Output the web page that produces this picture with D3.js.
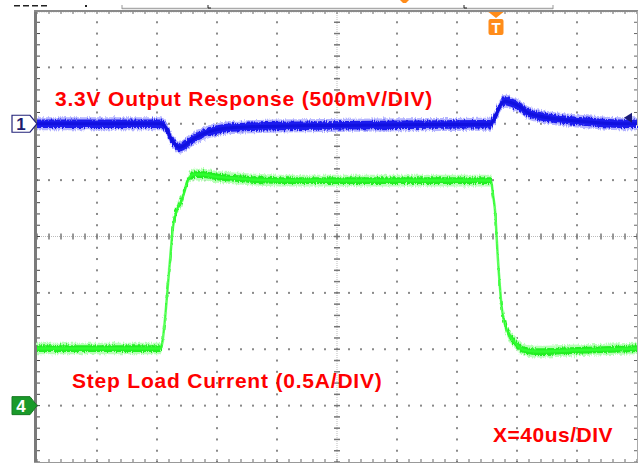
<!DOCTYPE html>
<html>
  <head>
    <meta charset="utf-8">
    <title>Step load response</title>
    <script src="https://d3js.org/d3.v7.min.js"></script>
    <style>
      body { margin: 0; background: #fff; }
      text { font-family: "Liberation Sans", Arial, sans-serif; font-weight: bold; }
    </style>
  </head>
  <body>

    <script>
      // ====================================
      // Scope capture: 3.3V output vs step load
      // ====================================

      // time axis, us from left edge of screen (40us/DIV, 10 DIV)
      const timeDomain = [0, 400];
      const divX = 10;
      const divY = 8;

      // channel 1: deviation from 3.3V, mV (500mV/DIV)
      const voltTime = [0, 82, 84.7, 87.3, 90, 92.7, 94.7, 97.3, 102, 108.7, 115.3, 125.3, 142, 175.3, 242, 302,
                        304, 306.7, 309.3, 312, 315.3, 322, 326.7, 335.3, 348.7, 370.7, 388.7, 400];
      const voltMv   = [0, 0, -13, -75, -146, -191, -208, -200, -155, -102, -67, -40, -27, -18, -9, -4,
                        22, 102, 173, 200, 191, 150, 102, 67, 40, 13, 0, 0];

      // channel 4: load current, A (0.5A/DIV)
      const currTime = [0, 82, 83.3, 85.3, 87.3, 88.7, 90.7, 93.3, 96.7, 100, 104, 110.7, 118.7, 135.3, 162, 302.7,
                        304, 305.3, 307.3, 310, 312, 314, 318.7, 324, 333.3, 355.3, 400];
      const currAmp  = [0.506, 0.506, 0.541, 0.763, 1.073, 1.295, 1.588, 1.738, 1.827, 1.978, 2.049, 2.049, 2.031, 2.013, 1.996, 1.996,
                        1.871, 1.738, 1.295, 0.851, 0.718, 0.647, 0.559, 0.497, 0.479, 0.488, 0.506];

      const ch1Scale = 500;   // mV per div
      const ch1Offset = 2;    // divs above centre
      const ch4Scale = 0.5;   // A per div
      const ch4Offset = -3;
      const triggerTime = 306;

      const labels = {
        ch1: "3.3V Output Response (500mV/DIV)",
        ch4: "Step Load Current (0.5A/DIV)",
        time: "X=40us/DIV"
      };

      function drawScope() {
        const width = 640;
        const height = 463;

        const svg = d3.select("body")
          .append("svg")
            .attr("width", width)
            .attr("height", height);

        // acquisition noise look for the traces
        const filt = svg.append("defs").append("filter").attr("id", "fuzz")
          .attr("x", "-5%").attr("y", "-50%").attr("width", "110%").attr("height", "200%");
        filt.append("feTurbulence").attr("type", "fractalNoise")
          .attr("baseFrequency", "0.9 0.15").attr("numOctaves", 2).attr("seed", 3).attr("result", "n");
        filt.append("feDisplacementMap").attr("in", "SourceGraphic").attr("in2", "n")
          .attr("scale", 5).attr("xChannelSelector", "R").attr("yChannelSelector", "G");

        const x = d3.scaleLinear().domain(timeDomain).range([37, 637]);
        const gx = d3.scaleLinear().domain([0, divX]).range([37, 637]);
        const gy = d3.scaleLinear().domain([-divY / 2, divY / 2]).range([462, 11]);

        // ---------- top status strip ----------
        const top = svg.append("g");
        [14, 23, 32, 41].forEach(function(d) {
          top.append("rect").attr("x", d).attr("y", 5).attr("width", 6).attr("height", 1.5).attr("fill", "#222");
        });
        top.append("rect").attr("x", 85).attr("y", 5).attr("width", 2).attr("height", 2).attr("fill", "#222");
        top.append("line").attr("x1", 122).attr("x2", 553).attr("y1", 8.5).attr("y2", 8.5)
          .attr("stroke", "#aaa").attr("stroke-width", 1.5);
        [122, 553].forEach(function(d) {
          top.append("line").attr("x1", d).attr("x2", d).attr("y1", 5).attr("y2", 9).attr("stroke", "#999");
        });
        [208, 464].forEach(function(d) {
          top.append("path").attr("d", "M" + d + ",5 V8 H" + (d + 3)).attr("stroke", "#222").attr("fill", "none");
        });
        top.append("path").attr("d", "M400,0 H409 L406,3 H403 Z").attr("fill", "#ff8c1a");

        // ---------- graticule ----------
        const grid = svg.append("g");
        const minorX = d3.range(0, divX + 0.001, 0.2);
        const minorY = d3.range(-divY / 2, divY / 2 + 0.001, 0.2);

        // dotted vertical lines
        d3.range(1, divX).filter(function(i) { return i !== 5; }).forEach(function(i) {
          grid.selectAll(null).data(minorY).enter().append("rect")
            .attr("x", gx(i) - 1).attr("y", function(d) { return gy(d) - 1; })
            .attr("width", 2).attr("height", 2).attr("fill", "#8a8a8a");
        });
        // dotted horizontal lines
        d3.range(-3, 4).filter(function(j) { return j !== 0; }).forEach(function(j) {
          grid.selectAll(null).data(minorX).enter().append("rect")
            .attr("x", function(d) { return gx(d) - 1; }).attr("y", gy(j) - 1)
            .attr("width", 2).attr("height", 2).attr("fill", "#8a8a8a");
        });

        // centre cross with ticks
        grid.append("line").attr("x1", gx(0)).attr("x2", gx(divX)).attr("y1", gy(0)).attr("y2", gy(0))
          .attr("stroke", "#bbb").attr("stroke-dasharray", "1,1");
        grid.append("line").attr("x1", gx(5)).attr("x2", gx(5)).attr("y1", gy(-4)).attr("y2", gy(4))
          .attr("stroke", "#bbb").attr("stroke-dasharray", "1,1");
        grid.selectAll(null).data(minorX).enter().append("line")
          .attr("x1", function(d) { return gx(d); }).attr("x2", function(d) { return gx(d); })
          .attr("y1", gy(0) - 3).attr("y2", gy(0) + 3)
          .attr("stroke", "#777").attr("stroke-width", 1.5);
        grid.selectAll(null).data(minorY).enter().append("line")
          .attr("x1", gx(5) - 3).attr("x2", gx(5) + 3)
          .attr("y1", function(d) { return gy(d); }).attr("y2", function(d) { return gy(d); })
          .attr("stroke", "#777").attr("stroke-width", 1.5);

        // border ticks
        grid.selectAll(null).data(minorY).enter().append("line")
          .attr("x1", gx(0)).attr("x2", gx(0) + 3)
          .attr("y1", function(d) { return gy(d); }).attr("y2", function(d) { return gy(d); })
          .attr("stroke", "#444");
        grid.selectAll(null).data(minorY).enter().append("line")
          .attr("x1", gx(divX) - 3).attr("x2", gx(divX))
          .attr("y1", function(d) { return gy(d); }).attr("y2", function(d) { return gy(d); })
          .attr("stroke", "#666");
        grid.selectAll(null).data(minorX).enter().append("line")
          .attr("x1", function(d) { return gx(d); }).attr("x2", function(d) { return gx(d); })
          .attr("y1", gy(4)).attr("y2", gy(4) + 3)
          .attr("stroke", "#666");
        grid.selectAll(null).data(minorX).enter().append("line")
          .attr("x1", function(d) { return gx(d); }).attr("x2", function(d) { return gx(d); })
          .attr("y1", gy(-4) - 3).attr("y2", gy(-4))
          .attr("stroke", "#666");
        // fine ruler along top edge
        grid.selectAll(null).data(d3.range(0, divX + 0.001, 0.04)).enter().append("line")
          .attr("x1", function(d) { return gx(d); }).attr("x2", function(d) { return gx(d); })
          .attr("y1", gy(4)).attr("y2", gy(4) + 1.5)
          .attr("stroke", "#999").attr("stroke-width", 0.6);

        // frame
        grid.append("line").attr("x1", 35.5).attr("x2", 35.5).attr("y1", 10).attr("y2", 463)
          .attr("stroke", "#7a7a7a").attr("stroke-width", 3);
        grid.append("line").attr("x1", 34).attr("x2", 638).attr("y1", 11).attr("y2", 11)
          .attr("stroke", "#8a8a8a").attr("stroke-width", 2);
        grid.append("line").attr("x1", 637.5).attr("x2", 637.5).attr("y1", 11).attr("y2", 463)
          .attr("stroke", "#aaa").attr("stroke-width", 1);
        grid.append("line").attr("x1", 34).attr("x2", 638).attr("y1", 462.5).attr("y2", 462.5)
          .attr("stroke", "#999").attr("stroke-width", 1);

        // ---------- traces ----------
        const ch1Data = voltTime.map(function(t, i) { return {t: t, v: ch1Offset + voltMv[i] / ch1Scale}; });
        const ch4Data = currTime.map(function(t, i) { return {t: t, v: ch4Offset + currAmp[i] / ch4Scale}; });

        function band(half) {
          return d3.area()
            .x(function(d) { return x(d.t); })
            .y0(function(d) { return gy(d.v) + half; })
            .y1(function(d) { return gy(d.v) - half; })
            .curve(d3.curveMonotoneX);
        }
        const line = d3.line()
          .x(function(d) { return x(d.t); })
          .y(function(d) { return gy(d.v); })
          .curve(d3.curveMonotoneX);

        const traces = svg.append("g");
        traces.append("path").attr("d", band(5.8)(ch4Data)).attr("fill", "#b8ffb8").attr("filter", "url(#fuzz)");
        traces.append("path").attr("d", band(3.4)(ch4Data)).attr("fill", "#22ee22").attr("filter", "url(#fuzz)");
        traces.append("path").attr("d", line(ch4Data)).attr("fill", "none")
          .attr("stroke", "#33ff33").attr("stroke-width", 2.5).attr("stroke-opacity", 0.8);

        traces.append("path").attr("d", band(6.5)(ch1Data)).attr("fill", "#b4b4ff").attr("filter", "url(#fuzz)");
        traces.append("path").attr("d", band(4.3)(ch1Data)).attr("fill", "#1a1aee").attr("filter", "url(#fuzz)");
        traces.append("path").attr("d", line(ch1Data)).attr("fill", "none")
          .attr("stroke", "#1010e0").attr("stroke-width", 3);

        // ---------- markers ----------
        const y1 = gy(ch1Offset);
        svg.append("path")
          .attr("d", "M12," + (y1 - 8.5) + " H30 L37," + y1 + " L30," + (y1 + 8.5) + " H12 Z")
          .attr("fill", "#fff").attr("stroke", "#23237a").attr("stroke-width", 1.2);
        svg.append("text").attr("x", 21).attr("y", y1 + 6.5).attr("text-anchor", "middle")
          .attr("font-size", 17).attr("font-weight", "normal").attr("fill", "#1c1c6e").text("1");

        const y4 = gy(ch4Offset);
        svg.append("path")
          .attr("d", "M12," + (y4 - 9) + " H30 L37," + y4 + " L30," + (y4 + 9) + " H12 Z")
          .attr("fill", "#1a9a2a").attr("stroke", "#177a22").attr("stroke-width", 1);
        svg.append("text").attr("x", 21).attr("y", y4 + 6.5).attr("text-anchor", "middle")
          .attr("font-size", 17).attr("fill", "#fff").text("4");

        // ch1 level arrow on right edge
        svg.append("path").attr("d", "M624," + (y1 - 6) + " L632," + (y1 - 11) + " L632," + (y1 - 1) + " Z")
          .attr("fill", "#1a1a7a");

        // trigger marker
        const tx = x(triggerTime);
        const trig = svg.append("g").attr("fill", "#ff8c1a");
        trig.append("path").attr("d", "M" + (tx - 7.5) + ",12 H" + (tx + 7.5) + " L" + tx + ",18 Z");
        trig.append("rect").attr("x", tx - 7.5).attr("y", 19).attr("width", 15).attr("height", 16).attr("rx", 2);
        trig.append("text").attr("x", tx).attr("y", 33).attr("text-anchor", "middle")
          .attr("font-size", 15).attr("fill", "#fff").text("T");

        // ---------- annotations ----------
        svg.append("text").attr("x", 55).attr("y", 106)
          .attr("font-size", 21).attr("letter-spacing", 0.8).attr("fill", "#ff0000")
          .text(labels.ch1);
        svg.append("text").attr("x", 72).attr("y", 388)
          .attr("font-size", 21).attr("letter-spacing", 0.8).attr("fill", "#ff0000")
          .text(labels.ch4);
        svg.append("text").attr("x", 493).attr("y", 442)
          .attr("font-size", 21).attr("letter-spacing", 0.5).attr("fill", "#ff0000")
          .text(labels.time);
      }
      drawScope();

    </script>
  </body>
</html>
